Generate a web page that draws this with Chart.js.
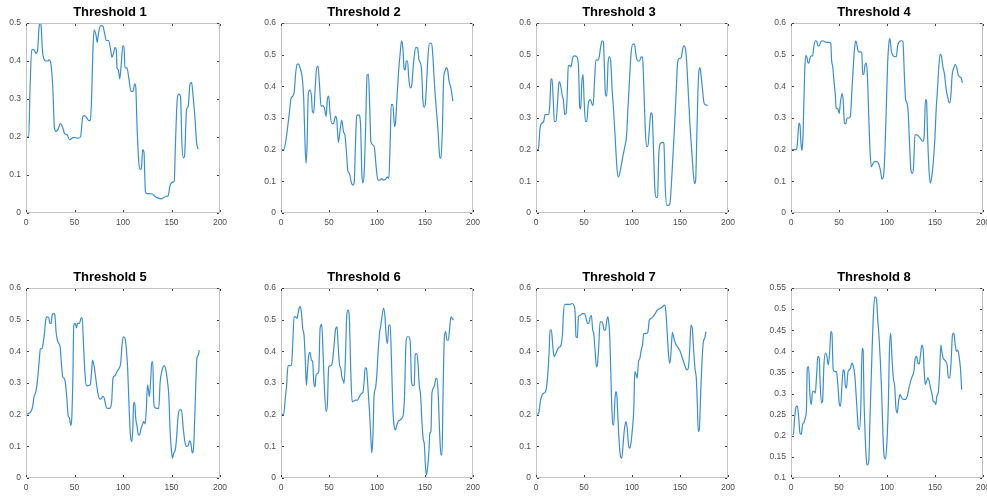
<!DOCTYPE html>
<html>
<head>
<meta charset="utf-8">
<script src="https://cdn.jsdelivr.net/npm/chart.js@4.4.1/dist/chart.umd.min.js"></script>
<style>
html, body { margin: 0; padding: 0; background: #fff; overflow: hidden; width: 987px; height: 496px; }
.panel { position: absolute; }
</style>
</head>
<body>
<script>
// titulos y ticks
var titulos = ['Threshold 1', 'Threshold 2', 'Threshold 3', 'Threshold 4', 'Threshold 5', 'Threshold 6', 'Threshold 7', 'Threshold 8'];
var xTicks = [0, 50, 100, 150, 200];
var yTicks1 = [0, 0.1, 0.2, 0.3, 0.4, 0.5];
var yTicks = [0, 0.1, 0.2, 0.3, 0.4, 0.5, 0.6];
var yTicks8 = [0.1, 0.15, 0.2, 0.25, 0.3, 0.35, 0.4, 0.45, 0.5, 0.55];

// series (x, valor)
var t1x = [1,2.8,4.2,5.9,8,10.3,12,13.5,14.5,15.5,17.2,20.7,22.5,23.5,25,27.6,29.3,31,33,35.5,38,39.7,42.4,44.8,46.5,49,53.4,56.2,58.6,60.3,62.8,64.8,66.2,67.6,69,70.3,72.4,73.4,74.8,76.9,79.3,81,82.8,85.2,87.2,88.6,90.3,91.7,93.1,93.8,95.2,96.6,98.3,99.7,101,102,104.1,106.2,108.3,110.3,112,113.1,114.5,116.2,117.9,119,120.3,121.7,123.1,124.8,130.3,132.8,136.2,139.7,142,144.8,146.6,148.3,151,152.8,154.1,155.9,157.6,159.3,160.7,162.1,163.4,165.5,167.2,169,170.7,172.4,174.1,175.9,177.6];
var t1y = [0.2,0.2,0.33,0.43,0.43,0.42,0.43,0.49,0.5,0.495,0.42,0.4,0.4,0.403,0.4,0.333,0.224,0.215,0.22,0.235,0.224,0.209,0.206,0.193,0.195,0.199,0.197,0.2,0.254,0.256,0.25,0.243,0.244,0.298,0.43,0.482,0.465,0.449,0.474,0.493,0.491,0.474,0.454,0.454,0.43,0.41,0.421,0.436,0.43,0.382,0.377,0.353,0.395,0.439,0.439,0.382,0.382,0.351,0.32,0.32,0.34,0.333,0.228,0.136,0.114,0.118,0.167,0.158,0.057,0.051,0.05,0.044,0.039,0.037,0.041,0.044,0.046,0.07,0.081,0.083,0.184,0.298,0.313,0.307,0.184,0.145,0.149,0.272,0.281,0.338,0.344,0.303,0.254,0.184,0.168];

var t2x = [1,2.8,5.2,7,8.7,10.4,12.2,13.9,15,16.7,18.4,19.8,21.9,23.7,25,26.1,27.1,28.5,30.3,31.7,32.7,34.1,35.5,37.2,38.6,40,41.7,43.5,45.2,47,48.3,49.7,51.1,52.9,54.6,56.7,58.1,59.8,61.6,63.3,65,66.8,68.5,69.6,71.3,73,74.8,76.2,77.6,78.9,81,82.8,84.2,85.2,86.6,88,89.7,91.1,92.5,93.6,95.6,97.4,99.1,100.9,103.3,105,106.8,108.9,110.6,112.3,113.7,114.8,116.5,118.3,119.3,120.7,122.4,124.2,125.6,126.9,128.3,129.4,130.4,131.8,133.2,134.6,136,137.4,138.8,140.5,142.3,143.6,145,146.4,147.8,149.2,150.6,152,153.4,154.8,156.9,158.3,160,161.7,163.5,164.5,165.6,166.6,168,169.4,170.8,172.2,173.6,175,176.3,177.7,179];
var t2y = [0.2,0.2,0.231,0.273,0.316,0.361,0.369,0.385,0.432,0.47,0.47,0.459,0.432,0.358,0.22,0.157,0.21,0.379,0.388,0.369,0.321,0.316,0.39,0.459,0.464,0.411,0.337,0.339,0.332,0.305,0.358,0.369,0.316,0.282,0.282,0.305,0.295,0.223,0.263,0.293,0.258,0.242,0.178,0.134,0.125,0.099,0.088,0.095,0.22,0.307,0.31,0.284,0.125,0.095,0.125,0.252,0.435,0.438,0.326,0.226,0.215,0.205,0.146,0.104,0.104,0.109,0.104,0.106,0.114,0.109,0.22,0.342,0.342,0.273,0.284,0.358,0.443,0.507,0.544,0.523,0.454,0.452,0.48,0.48,0.422,0.395,0.399,0.448,0.496,0.523,0.521,0.486,0.475,0.454,0.358,0.334,0.353,0.432,0.507,0.536,0.536,0.491,0.401,0.332,0.263,0.21,0.173,0.173,0.252,0.422,0.448,0.459,0.452,0.417,0.403,0.382,0.353];

var t3x = [1,2.4,4.2,6.3,8,9.4,11.5,13.2,14.3,15.7,16.7,18.1,19.1,20.9,22.6,24,25,26.4,27.5,28.5,29.9,31.3,32.3,33.7,35.1,36.5,38.3,40,42.4,44.2,45.6,46.6,47.6,49,50.1,51.5,52.9,54.6,56.7,58.1,59.5,60.9,62.3,64.3,65.7,67.5,68.9,70.3,71.3,72.4,73.7,75.1,76.5,77.9,79.3,81,82.8,84.5,85.9,88,90.4,92.9,94.3,95.7,97.4,99.1,100.9,102.6,104.3,106.1,107.8,109.6,111,112.3,113.7,115.1,116.5,118.3,119.6,121,122.4,123.8,125.2,126.6,128,129.7,131.8,133.2,134.6,136.3,138,139.5,140.9,142.6,144.3,146.1,147.5,149.2,151.3,152.7,154.1,155.8,157.2,159,160.7,162.4,163.8,165.2,166.3,167.6,169.4,170.8,172.2,173.6,175,176.7,178.8];
var t3y = [0.2,0.2,0.268,0.284,0.289,0.311,0.311,0.311,0.337,0.422,0.424,0.348,0.289,0.289,0.358,0.414,0.411,0.39,0.369,0.358,0.311,0.314,0.358,0.464,0.466,0.462,0.491,0.496,0.494,0.464,0.332,0.329,0.405,0.438,0.358,0.289,0.289,0.348,0.358,0.346,0.339,0.411,0.483,0.483,0.491,0.528,0.544,0.539,0.454,0.374,0.369,0.475,0.494,0.475,0.39,0.316,0.22,0.136,0.114,0.136,0.178,0.215,0.242,0.326,0.422,0.507,0.533,0.533,0.496,0.48,0.48,0.493,0.491,0.401,0.273,0.21,0.21,0.273,0.316,0.311,0.2,0.077,0.049,0.051,0.189,0.22,0.223,0.22,0.083,0.024,0.024,0.03,0.083,0.178,0.273,0.39,0.475,0.488,0.491,0.517,0.528,0.517,0.464,0.358,0.263,0.189,0.125,0.093,0.104,0.252,0.438,0.459,0.427,0.385,0.348,0.342,0.339];

var t4x = [1,4.2,5.9,6.9,8.3,9.3,10.4,11.4,12.5,13.5,14.5,15.6,16.6,17.6,18.7,19.7,21.1,22.5,23.9,25.6,27,28,29.4,31.1,32.9,35.3,37,39.4,41.5,42.2,43.6,44.6,46,47.1,48.8,50.2,51.6,53.3,54.3,55.7,57.1,58.5,60.6,61.9,63.3,64.7,66.1,67.5,68.9,70.2,72.3,73.7,74.7,75.8,77.2,78.5,79.6,81,82.3,83.7,85.5,87.2,89.6,91.3,93.1,94.8,96.5,97.9,99.3,100.7,102.1,103.1,104.5,106.2,107.9,109.7,111.1,112.8,114.9,116.6,118,119.4,120.8,122.1,123.6,124.9,126.3,127.7,129.1,131.1,133.2,135.3,137.4,138.7,140.1,141.2,142.2,143.6,145,146.4,148.1,149.8,151.2,152.6,154,155.4,156.7,158.1,159.9,161.6,163.3,165.1,166.5,167.8,169.6,170.9,172.7,174,175.8,177.2,178.5];
var t4y = [0.2,0.2,0.2,0.231,0.284,0.279,0.22,0.197,0.242,0.358,0.464,0.498,0.491,0.475,0.473,0.488,0.496,0.496,0.528,0.544,0.541,0.528,0.528,0.541,0.544,0.541,0.539,0.539,0.536,0.486,0.459,0.422,0.379,0.332,0.329,0.314,0.353,0.377,0.358,0.284,0.282,0.3,0.3,0.305,0.379,0.454,0.517,0.544,0.528,0.509,0.509,0.507,0.438,0.438,0.469,0.473,0.433,0.305,0.2,0.146,0.157,0.162,0.162,0.155,0.136,0.107,0.12,0.2,0.337,0.475,0.539,0.551,0.512,0.498,0.494,0.494,0.528,0.541,0.544,0.541,0.443,0.358,0.348,0.316,0.21,0.136,0.125,0.146,0.247,0.247,0.242,0.233,0.226,0.242,0.358,0.353,0.252,0.146,0.095,0.11,0.157,0.231,0.326,0.39,0.464,0.501,0.496,0.464,0.438,0.392,0.364,0.348,0.369,0.433,0.459,0.469,0.459,0.438,0.43,0.427,0.411];

var t5x = [1,3.4,5.5,6.9,8.3,9.7,11,12.4,13.8,14.8,16.6,17.9,19,20.3,21.7,23.4,24.8,25.9,26.9,28.3,29.7,31,32.4,33.8,35.2,36.6,37.9,39.3,40.7,42.1,43.4,44.8,46.2,47.2,48.3,49.3,50.7,52.1,53.1,55.2,56.6,57.9,59.3,60.7,62.1,64.1,66.2,67.6,68.6,70,71.7,73.1,74.5,75.9,77.6,79.3,80.7,82.1,83.8,86.2,88.3,89.7,91.7,93.8,95.9,97.6,99,100.3,102.1,103.4,104.8,106.2,107.6,109,110,111,112.1,113.1,114.5,115.9,117.2,118.6,120,121.4,122.8,124.1,125.2,126.2,127.2,128.6,129.7,130.7,131.7,133.1,135.2,136.9,138.3,140,141.4,142.8,144.5,145.9,147.2,148.6,150,151,152.4,153.8,155.2,156.9,158.6,160.3,162.1,163.8,165.5,167.2,168.6,170,171.4,172.4,173.4,174.8,176.2,177.6,178.6];
var t5y = [0.201,0.205,0.212,0.226,0.257,0.267,0.288,0.325,0.378,0.407,0.409,0.43,0.456,0.498,0.509,0.506,0.488,0.488,0.514,0.519,0.516,0.462,0.435,0.425,0.414,0.357,0.32,0.315,0.299,0.252,0.199,0.189,0.166,0.189,0.315,0.483,0.488,0.474,0.488,0.488,0.504,0.506,0.42,0.336,0.292,0.292,0.294,0.336,0.372,0.357,0.32,0.288,0.262,0.25,0.25,0.259,0.252,0.231,0.22,0.22,0.241,0.315,0.323,0.336,0.346,0.362,0.42,0.446,0.441,0.409,0.346,0.231,0.136,0.115,0.147,0.236,0.238,0.189,0.163,0.136,0.136,0.157,0.168,0.178,0.171,0.22,0.294,0.278,0.257,0.315,0.367,0.367,0.241,0.222,0.22,0.22,0.304,0.336,0.351,0.355,0.336,0.304,0.262,0.147,0.084,0.063,0.079,0.087,0.126,0.199,0.215,0.215,0.157,0.115,0.1,0.102,0.117,0.11,0.079,0.084,0.136,0.273,0.378,0.388,0.404];

var t6x = [1,2.8,4.5,5.9,7.3,8.7,10.8,12.2,13.6,15.3,16.7,18.4,19.8,21.2,22.6,24,25.4,26.4,27.5,28.9,30.3,31.7,33,34.1,35.5,36.5,37.9,39.3,40.7,42.4,43.8,45.2,47,48.3,49.7,52.2,53.6,55.3,56.7,58.4,59.5,61,62.3,63.3,64.7,65.7,67.1,68.5,69.9,71.3,72.7,74.1,75.8,77.6,79.7,81.7,83.8,85.2,86.6,87.6,89,90.4,92.2,93.6,94.6,95.7,97,98.4,99.8,101.2,102.6,104,105.4,106.8,108.2,109.6,110.9,112.3,113.7,115.1,116.5,117.9,119.3,120.7,122.4,124.2,125.9,127.3,128.7,130.1,131.5,133.2,134.6,136,137.4,138.8,139.8,141.2,142.6,144,145.4,146.8,148.2,149.2,150.6,151.6,153,154.1,155.1,156.2,157.2,158.6,160,161.4,162.4,163.8,165.2,166.6,167.7,168.7,170.1,171.5,172.9,174.3,175.7,177,178.4,179.5];
var t6y = [0.201,0.201,0.252,0.294,0.355,0.355,0.355,0.42,0.509,0.509,0.504,0.53,0.541,0.525,0.472,0.451,0.367,0.292,0.336,0.388,0.397,0.372,0.367,0.304,0.288,0.325,0.33,0.336,0.472,0.485,0.399,0.283,0.21,0.231,0.351,0.355,0.367,0.42,0.467,0.477,0.42,0.357,0.346,0.32,0.309,0.299,0.378,0.514,0.53,0.498,0.336,0.241,0.243,0.246,0.246,0.257,0.267,0.27,0.304,0.348,0.346,0.294,0.21,0.126,0.079,0.126,0.262,0.283,0.325,0.399,0.456,0.483,0.514,0.536,0.514,0.446,0.425,0.483,0.483,0.367,0.22,0.163,0.152,0.168,0.18,0.183,0.189,0.199,0.262,0.42,0.446,0.446,0.43,0.304,0.292,0.294,0.39,0.393,0.367,0.294,0.262,0.178,0.121,0.11,0.031,0.01,0.042,0.084,0.142,0.147,0.267,0.283,0.294,0.315,0.315,0.262,0.147,0.073,0.073,0.241,0.441,0.462,0.435,0.435,0.472,0.509,0.504,0.498];

var t7x = [1,2.8,4.5,6.3,7.7,9.4,10.8,12.2,13.6,14.6,16,17.4,18.8,20.2,21.6,22.9,24.7,26.1,27.5,28.5,29.9,32.3,35.1,37.6,39.3,40.7,41.7,43.1,44.2,46.3,48.3,50.4,52.2,53.6,55,56.3,57.7,59.1,60.2,61.6,63,64,65.4,66.8,68.2,69.6,71,72.3,73.7,74.8,75.8,76.9,77.9,79,80,81,82.1,83.1,84.2,85.2,86.6,88,89.4,90.8,92.2,93.6,95,96.3,97.7,99.1,100.5,101.9,102.9,104,105.4,106.8,108.2,109.6,110.9,112.3,114.4,116.5,118,120,122.1,124.2,126.3,129.1,131.8,133.9,135.3,136.7,138.1,139.5,140.9,142,143.3,144.7,146.1,147.5,148.9,150.3,152,153.8,155.5,157.2,158.6,160,161.4,162.8,164.2,165.6,167,168,169,170.1,171.5,172.9,174.3,175.7,177];
var t7y = [0.201,0.205,0.241,0.262,0.267,0.27,0.283,0.325,0.393,0.467,0.467,0.42,0.383,0.39,0.399,0.409,0.414,0.42,0.451,0.514,0.548,0.548,0.548,0.551,0.546,0.525,0.446,0.443,0.509,0.514,0.519,0.519,0.504,0.488,0.488,0.506,0.514,0.467,0.456,0.399,0.351,0.357,0.42,0.493,0.493,0.488,0.467,0.467,0.496,0.509,0.493,0.441,0.336,0.22,0.168,0.168,0.241,0.273,0.262,0.199,0.115,0.068,0.063,0.11,0.157,0.178,0.157,0.105,0.094,0.115,0.157,0.22,0.336,0.33,0.315,0.367,0.378,0.404,0.42,0.456,0.456,0.46,0.498,0.504,0.511,0.519,0.53,0.535,0.541,0.546,0.525,0.456,0.388,0.362,0.409,0.46,0.446,0.43,0.42,0.414,0.407,0.399,0.383,0.367,0.351,0.341,0.346,0.399,0.483,0.472,0.404,0.346,0.315,0.241,0.147,0.152,0.262,0.367,0.43,0.441,0.462];

var t8x = [1.4,2.4,3.8,5.2,6.6,8,9.3,10.7,12.1,13.5,14.9,16,17,18.3,19.7,21.1,22.5,23.9,25.3,26.6,28,29.4,30.4,31.8,32.9,34.3,36,37.4,38.8,40.1,41.5,42.6,44,45.7,47.4,48.8,50.2,51.6,53.3,54.3,55.4,56.7,57.8,59.2,60.6,62,63.3,65.1,66.4,67.8,68.9,69.9,71.3,72.7,74.1,75.1,76.1,77.5,78.5,79.6,81,82.4,84.1,85.5,87.2,89,90.4,91.8,93.1,94.5,95.9,97.2,98.6,100,101.4,102.4,103.8,105.2,106.6,108,109.3,110.7,112.1,113.5,115.2,117.3,119.4,121.1,122.8,124.6,126.3,128,129.4,130.8,132.2,133.6,134.9,136.3,137.7,138.8,139.8,141.2,142.6,144,145.3,146.7,148.1,149.5,150.9,151.9,153.3,154.7,156.1,157.1,158.5,159.9,161.2,162.6,164,165.4,166.8,168.2,169.6,170.9,172.3,173.7,175.1,176.5,177.8];
var t8y = [0.203,0.203,0.243,0.268,0.27,0.243,0.207,0.203,0.227,0.231,0.243,0.258,0.36,0.364,0.298,0.274,0.305,0.305,0.301,0.341,0.388,0.384,0.321,0.278,0.282,0.368,0.396,0.388,0.368,0.392,0.447,0.443,0.356,0.352,0.352,0.321,0.278,0.27,0.329,0.356,0.354,0.317,0.313,0.349,0.356,0.36,0.372,0.364,0.345,0.298,0.258,0.223,0.215,0.266,0.407,0.403,0.282,0.188,0.141,0.131,0.141,0.251,0.376,0.47,0.529,0.525,0.474,0.431,0.376,0.298,0.196,0.149,0.145,0.188,0.274,0.392,0.443,0.384,0.337,0.317,0.266,0.254,0.282,0.298,0.29,0.286,0.286,0.294,0.313,0.329,0.341,0.352,0.384,0.388,0.372,0.37,0.392,0.415,0.403,0.352,0.321,0.329,0.337,0.329,0.313,0.301,0.282,0.28,0.274,0.294,0.301,0.345,0.415,0.4,0.384,0.38,0.376,0.368,0.338,0.337,0.376,0.439,0.443,0.419,0.4,0.403,0.388,0.36,0.309];

var series = [[t1x, t1y], [t2x, t2y], [t3x, t3y], [t4x, t4y], [t5x, t5y], [t6x, t6y], [t7x, t7y], [t8x, t8y]];
var ejesY = [yTicks1, yTicks, yTicks, yTicks, yTicks, yTicks, yTicks, yTicks8];

// posicion del area de dibujo de cada panel
var izquierdas = [26, 281, 536, 791];
var anchos = [194, 192, 192, 192];
var arribas = [23, 288];
var alto = 190;
var ejeY = 26, ejeX = 27, titulo = 23, margenDer = 20;

Chart.defaults.font.family = '"Liberation Sans", Arial, Helvetica, sans-serif';

// caja gris y marcas de los ticks hacia dentro
var caja = {
	id: 'caja',
	afterDraw: function (chart) {
		var a = chart.chartArea, ctx = chart.ctx;
		var sx = chart.scales.x, sy = chart.scales.y;
		ctx.save();
		ctx.strokeStyle = '#c4c4c4';
		ctx.lineWidth = 1;
		ctx.strokeRect(a.left + 0.5, a.top + 0.5, a.right - a.left - 1, a.bottom - a.top - 1);
		ctx.strokeStyle = '#404040';
		ctx.beginPath();
		sx.ticks.forEach(function (t) {
			var px = Math.round(sx.getPixelForValue(t.value)) + 0.5;
			ctx.moveTo(px, a.bottom - 1); ctx.lineTo(px, a.bottom - 3);
			ctx.moveTo(px, a.top + 1); ctx.lineTo(px, a.top + 3);
		});
		sy.ticks.forEach(function (t) {
			var py = Math.round(sy.getPixelForValue(t.value)) + 0.5;
			ctx.moveTo(a.left + 1, py); ctx.lineTo(a.left + 3, py);
			ctx.moveTo(a.right - 1, py); ctx.lineTo(a.right - 3, py);
		});
		ctx.stroke();
		ctx.restore();
	}
};

for (var i = 0; i < 8; i++) {
	var col = i % 4, fila = Math.floor(i / 4);
	var xs = series[i][0], ys = series[i][1];
	if (xs.length != ys.length) { throw new Error('serie ' + (i + 1) + ': ' + xs.length + ' vs ' + ys.length); }
	var puntos = xs.map(function (x, k) { return { x: x, y: ys[k] }; });
	var ticksY = ejesY[i];

	var cv = document.createElement('canvas');
	cv.className = 'panel';
	cv.width = ejeY + anchos[col] + margenDer;
	cv.height = titulo + alto + ejeX;
	cv.style.left = (izquierdas[col] - ejeY) + 'px';
	cv.style.top = (arribas[fila] - titulo) + 'px';
	document.body.appendChild(cv);

	new Chart(cv.getContext('2d'), {
		type: 'line',
		data: {
			datasets: [{
				data: puntos,
				borderColor: '#3b8ed3',
				borderWidth: 1.2,
				pointRadius: 0,
				fill: false,
				cubicInterpolationMode: 'monotone'
			}]
		},
		options: {
			responsive: false,
			animation: false,
			events: [],
			layout: { padding: { left: 0, right: margenDer, top: 0, bottom: 0 } },
			plugins: {
				legend: { display: false },
				tooltip: { enabled: false },
				title: {
					display: true,
					text: titulos[i],
					color: '#000',
					font: { size: 13, weight: 'bold', lineHeight: 1.2 },
					padding: { top: 5, bottom: 2.4 }
				}
			},
			scales: {
				x: {
					type: 'linear',
					min: xTicks[0],
					max: xTicks[xTicks.length - 1],
					grid: { display: false, drawTicks: false },
					border: { display: false },
					afterBuildTicks: function (s) { s.ticks = xTicks.map(function (v) { return { value: v }; }); },
					afterFit: function (s) { s.height = ejeX; },
					ticks: { color: '#4d4d4d', font: { size: 8.5 }, padding: 5, maxRotation: 0, autoSkip: false,
						callback: function (v) { return String(v); } }
				},
				y: {
					min: ticksY[0],
					max: ticksY[ticksY.length - 1],
					grid: { display: false, drawTicks: false },
					border: { display: false },
					afterBuildTicks: (function (tk) { return function (s) { s.ticks = tk.map(function (v) { return { value: v }; }); }; })(ticksY),
					afterFit: function (s) { s.width = ejeY; },
					ticks: { color: '#4d4d4d', font: { size: 8.5 }, padding: 5, autoSkip: false,
						callback: function (v) { return String(+v.toFixed(2)); } }
				}
			}
		},
		plugins: [caja]
	});
}
</script>
</body>
</html>
